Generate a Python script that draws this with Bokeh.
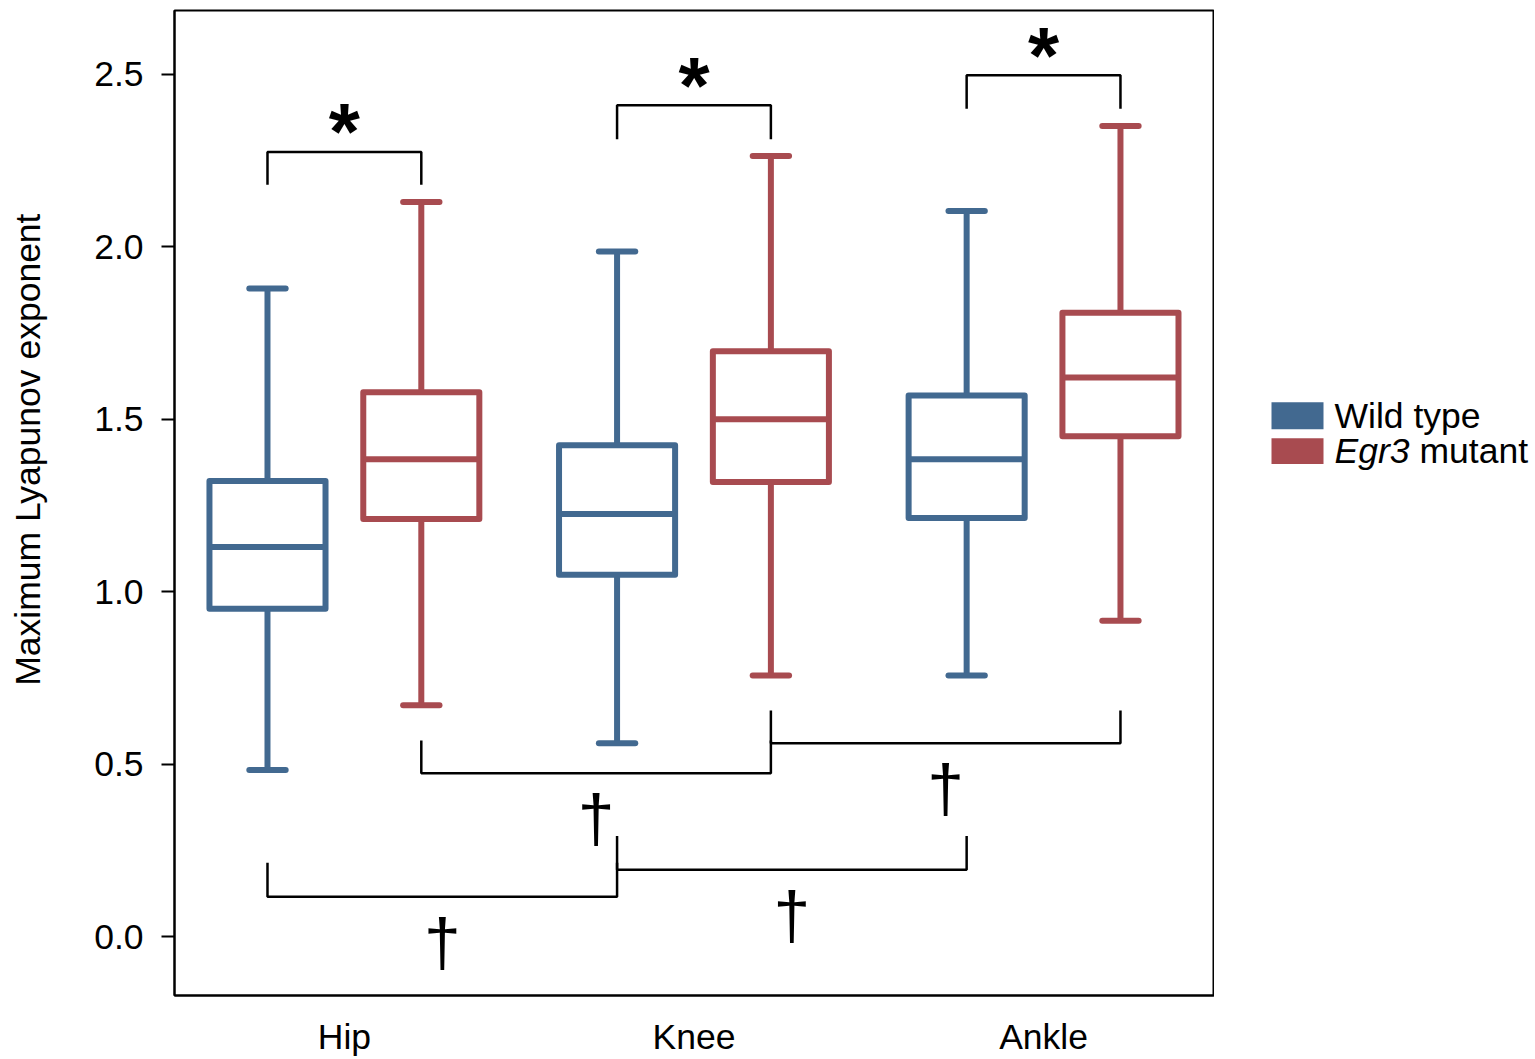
import numpy as np
from bokeh.plotting import figure
from bokeh.layouts import row
from bokeh.models import Range1d, FixedTicker, PrintfTickFormatter
from bokeh.core.properties import value
from bokeh.embed import file_html
from bokeh.resources import INLINE

# ---------------- data ----------------
joints = ["Hip", "Knee", "Ankle"]
series = ["Wild type", "Egr3 mutant"]
y_title = "Maximum Lyapunov exponent"

wt_low = [0.483, 0.561, 0.757]
wt_q1 = [0.951, 1.049, 1.214]
wt_med = [1.130, 1.225, 1.384]
wt_q3 = [1.321, 1.425, 1.569]
wt_high = [1.879, 1.986, 2.104]

mu_low = [0.671, 0.757, 0.916]
mu_q1 = [1.211, 1.318, 1.451]
mu_med = [1.384, 1.500, 1.621]
mu_q3 = [1.578, 1.697, 1.809]
mu_high = [2.130, 2.263, 2.350]

y_ticks = [0.0, 0.5, 1.0, 1.5, 2.0, 2.5]

# significance brackets: WT vs mutant within joint (*)
star_bar = [2.275, 2.410, 2.497]
star_leg = [2.180, 2.312, 2.400]
# between joints (dagger): series index, joint a, joint b, bar y, leg y
dag_series = [1, 1, 0, 0]
dag_a = [0, 1, 0, 1]
dag_b = [1, 2, 1, 2]
dag_bar = [0.474, 0.561, 0.116, 0.194]
dag_leg = [0.569, 0.656, 0.214, 0.292]

# ---------------- style ----------------
BLUE = "#426990"
RED = "#A84B50"
FONT = "Liberation Sans"
FS = "35.5px"
OFF = 0.22
BOXW = 0.332
CAPW = 0.052

W_TITLE, W_MAIN, W_LEG, H = 60, 1154, 321, 1059
TOP, BOTTOM, LEFT = 10, 61, 114

# ---- left panel holding the y title (page-pixel coordinates) ----
lf = figure(width=W_TITLE, height=H, x_range=Range1d(0, W_TITLE),
            y_range=Range1d(H - BOTTOM, TOP), output_backend="svg",
            toolbar_location=None, min_border_left=0, min_border_right=0,
            min_border_top=TOP, min_border_bottom=BOTTOM)
lf.axis.visible = False
lf.grid.visible = False
lf.outline_line_color = None
lf.text(x=[27.5], y=[450.5], text=[y_title], angle=np.pi / 2,
        text_font=value(FONT), text_font_size=FS, text_color="black",
        text_align="center", text_baseline="middle")

# ---- main plot ----
p = figure(width=W_MAIN, height=H, x_range=Range1d(0.514, 3.489),
           y_range=Range1d(-0.1705, 2.685), output_backend="svg",
           toolbar_location=None, min_border_left=LEFT, min_border_right=0,
           min_border_top=TOP, min_border_bottom=BOTTOM)
p.grid.visible = False
p.outline_line_color = "black"
p.outline_line_width = 2

base = np.arange(1, len(joints) + 1, dtype=float)
stats = [
    (base - OFF, wt_low, wt_q1, wt_med, wt_q3, wt_high, BLUE),
    (base + OFF, mu_low, mu_q1, mu_med, mu_q3, mu_high, RED),
]
for xs, lo, q1, med, q3, hi, col in stats:
    lw = 6
    p.segment(x0=xs, y0=q3, x1=xs, y1=hi, line_color=col, line_width=lw)
    p.segment(x0=xs, y0=q1, x1=xs, y1=lo, line_color=col, line_width=lw)
    p.segment(x0=xs - CAPW, y0=hi, x1=xs + CAPW, y1=hi, line_color=col,
              line_width=lw, line_cap="round")
    p.segment(x0=xs - CAPW, y0=lo, x1=xs + CAPW, y1=lo, line_color=col,
              line_width=lw, line_cap="round")
    p.quad(left=xs - BOXW / 2, right=xs + BOXW / 2, bottom=q1, top=q3,
           fill_color="white", line_color=col, line_width=lw, line_join="round")
    p.segment(x0=xs - BOXW / 2, y0=med, x1=xs + BOXW / 2, y1=med,
              line_color=col, line_width=lw)

# star brackets
sx0 = base - OFF
sx1 = base + OFF
p.multi_line(xs=[[a, a, b, b] for a, b in zip(sx0, sx1)],
             ys=[[l, t, t, l] for l, t in zip(star_leg, star_bar)],
             line_color="black", line_width=2.5)
p.text(x=(sx0 + sx1) / 2, y=np.array(star_bar) + 0.09, text=["*"] * 3,
       text_font=value(FONT), text_font_size="80px", text_font_style="bold",
       text_align="center", text_baseline="middle", y_offset=11)

# dagger brackets
offs = [-OFF, OFF]
dx0 = np.array([base[a] + offs[s] for s, a in zip(dag_series, dag_a)])
dx1 = np.array([base[b] + offs[s] for s, b in zip(dag_series, dag_b)])
p.multi_line(xs=[[a, a, b, b] for a, b in zip(dx0, dx1)],
             ys=[[l, t, t, l] for l, t in zip(dag_leg, dag_bar)],
             line_color="black", line_width=2.5)
p.text(x=(dx0 + dx1) / 2, y=np.array(dag_bar) - 0.13, text=["\u2020"] * 4,
       text_font=value(FONT), text_font_size="66px",
       text_align="center", text_baseline="middle")

# axes
p.yaxis.ticker = FixedTicker(ticks=y_ticks)
p.yaxis.formatter = PrintfTickFormatter(format="%.1f")
p.yaxis.minor_tick_line_color = None
p.yaxis.major_tick_out = 13
p.yaxis.major_tick_in = 0
p.yaxis.major_tick_line_width = 2
p.yaxis.axis_line_width = 2
p.yaxis.major_label_standoff = 18
p.yaxis.major_label_text_font = FONT
p.yaxis.major_label_text_font_size = FS
p.yaxis.major_label_text_color = "black"

p.xaxis.ticker = FixedTicker(ticks=list(base))
p.xaxis.major_label_overrides = {float(b): j for b, j in zip(base, joints)}
p.xaxis.minor_tick_line_color = None
p.xaxis.major_tick_line_color = None
p.xaxis.major_tick_out = 0
p.xaxis.major_tick_in = 0
p.xaxis.axis_line_width = 2
p.xaxis.major_label_standoff = 21
p.xaxis.major_label_text_font = FONT
p.xaxis.major_label_text_font_size = FS
p.xaxis.major_label_text_color = "black"

# ---- legend panel (page-pixel coordinates) ----
X0 = W_TITLE + W_MAIN
lg = figure(width=W_LEG, height=H, x_range=Range1d(X0, X0 + W_LEG),
            y_range=Range1d(H - BOTTOM, TOP), output_backend="svg",
            toolbar_location=None, min_border_left=0, min_border_right=0,
            min_border_top=TOP, min_border_bottom=BOTTOM)
lg.axis.visible = False
lg.grid.visible = False
lg.outline_line_color = None
lg.quad(left=[1271, 1271], right=[1323, 1323], top=[403, 439], bottom=[430, 465],
        fill_color=[BLUE, RED], line_color=None)
lg.text(x=[1334], y=[417], text=[series[0]], text_font=value(FONT),
        text_font_size=FS, text_baseline="alphabetic")
lg.text(x=[1334], y=[452], text=[series[1].split(" ")[0]], text_font=value(FONT),
        text_font_size=FS, text_font_style="italic", text_baseline="alphabetic")
lg.text(x=[1419], y=[452], text=[series[1].split(" ", 1)[1]], text_font=value(FONT),
        text_font_size=FS, text_baseline="alphabetic")

layout = row(lf, p, lg)
open("out.html", "w").write(file_html(layout, INLINE))
